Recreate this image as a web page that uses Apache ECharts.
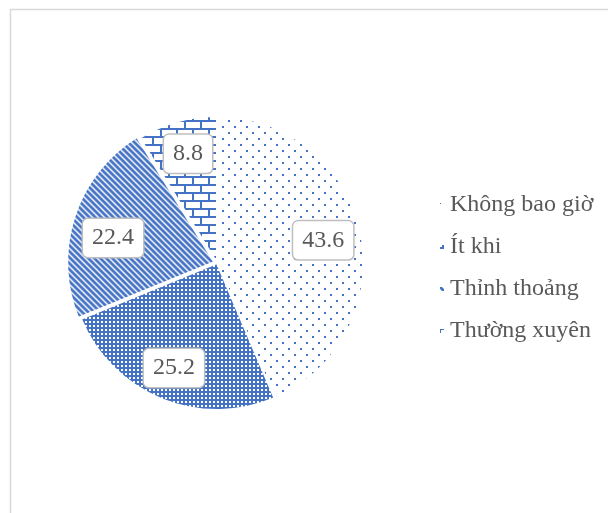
<!DOCTYPE html>
<html>
<head>
<meta charset="utf-8">
<script src="https://cdn.jsdelivr.net/npm/echarts@6/dist/echarts.min.js"></script>
<style>
  html, body { margin: 0; padding: 0; background: #fff; }
  #chart { width: 608px; height: 513px; }
</style>
</head>
<body>
<div id="chart"></div>
<script>
const categories = ['Không bao giờ', 'Ít khi', 'Thỉnh thoảng', 'Thường xuyên']
const values = [43.6, 25.2, 22.4, 8.8]
const explodedName = 'Thỉnh thoảng'

const BLUE = '#4472c4'
const FONT = '"Liberation Serif", "Times New Roman", serif'

// pattern tiles
const makeTile = (w, h, draw) => {
  const c = document.createElement('canvas')
  c.width = w
  c.height = h
  const ctx = c.getContext('2d')
  ctx.fillStyle = '#fff'
  ctx.fillRect(0, 0, w, h)
  ctx.fillStyle = BLUE
  ctx.strokeStyle = BLUE
  draw(ctx)
  return { image: c, repeat: 'repeat' }
}

const dots = makeTile(12, 12, ctx => {
  ctx.fillRect(0, 0, 2, 2)
  ctx.fillRect(6, 6, 2, 2)
})

const grid = makeTile(4, 4, ctx => {
  ctx.fillRect(0, 0, 4, 4)
  ctx.fillStyle = '#fff'
  ctx.fillRect(1, 1, 2, 2)
})

const stripes = makeTile(6, 6, ctx => {
  ctx.lineWidth = 2.8
  ctx.beginPath()
  ctx.moveTo(-1, -1); ctx.lineTo(7, 7)
  ctx.moveTo(-4, 2); ctx.lineTo(4, 10)
  ctx.moveTo(2, -4); ctx.lineTo(10, 4)
  ctx.stroke()
})

const bricks = makeTile(16, 16, ctx => {
  ctx.fillRect(0, 0, 16, 2)
  ctx.fillRect(0, 8, 16, 2)
  ctx.fillRect(0, 0, 2, 8)
  ctx.fillRect(8, 8, 2, 8)
})

const patterns = [dots, grid, stripes, bricks]
// small nudges so the boxes sit where the original put them
const labelNudge = { 'Không bao giờ': [-5, 0], 'Thỉnh thoảng': [4, 10], 'Thường xuyên': [2, 0] }

const chart = echarts.init(document.getElementById('chart'))

const pieData = categories.map((name, i) => ({
  name,
  value: values[i],
  selected: name === explodedName,
  itemStyle: { color: patterns[i] }
}))

const labelData = categories.map((name, i) => ({
  name,
  value: values[i],
  label: { offset: labelNudge[name] || [0, 0] }
}))

const option = {
  animation: false,
  graphic: [
    {
      type: 'rect',
      shape: { x: 10.5, y: 9.5, width: 640, height: 560 },
      style: { fill: 'none', stroke: '#d9d9d9', lineWidth: 1.5 },
      silent: true
    }
  ],
  legend: {
    orient: 'vertical',
    left: 433,
    top: 185,
    itemWidth: 6,
    itemHeight: 6,
    itemGap: 12,
    icon: 'rect',
    data: categories,
    textStyle: {
      fontFamily: FONT,
      fontSize: 24,
      color: '#595959',
      lineHeight: 30
    }
  },
  series: [
    {
      type: 'pie',
      center: [217, 263],
      radius: [0, 147],
      startAngle: 90,
      clockwise: true,
      selectedMode: 'single',
      selectedOffset: 3,
      silent: true,
      label: { show: false },
      labelLine: { show: false },
      itemStyle: { borderColor: '#fff', borderWidth: 2 },
      emphasis: { disabled: true },
      data: pieData
    },
    {
      // transparent ring that only carries the value labels
      type: 'pie',
      center: [217, 263],
      radius: [74, 147],
      startAngle: 90,
      clockwise: true,
      silent: true,
      legendHoverLink: false,
      itemStyle: { color: 'transparent', borderWidth: 0 },
      emphasis: { disabled: true },
      labelLine: { show: false },
      label: {
        show: true,
        position: 'inside',
        formatter: p => p.value.toFixed(1),
        fontFamily: FONT,
        fontSize: 24,
        color: '#595959',
        backgroundColor: '#fff',
        borderColor: '#bfbfbf',
        borderWidth: 1.5,
        borderRadius: 5,
        padding: [7, 9, 7, 9]
      },
      data: labelData
    }
  ]
}

chart.setOption(option)
</script>
</body>
</html>
